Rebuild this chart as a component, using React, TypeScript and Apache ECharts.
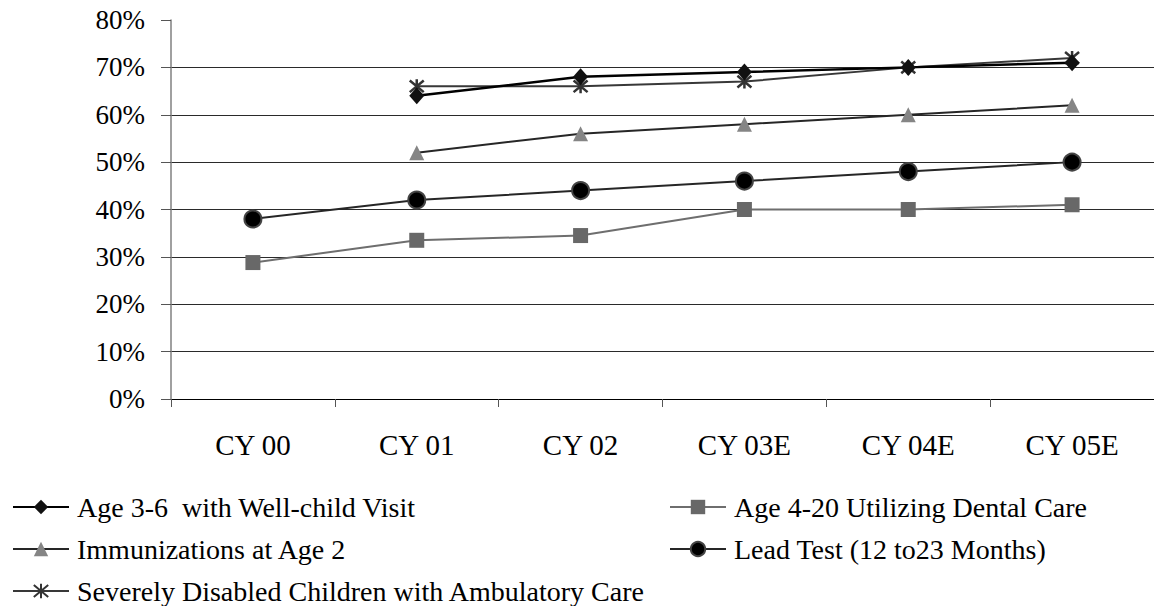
import React, { useEffect, useRef } from "react";
import * as echarts from "echarts";

const categories = ["CY 00", "CY 01", "CY 02", "CY 03E", "CY 04E", "CY 05E"];

const wellChild = [null, 64, 68, 69, 70, 71];
const dental = [28.8, 33.5, 34.5, 40, 40, 41];
const immunizations = [null, 52, 56, 58, 60, 62];
const leadTest = [38, 42, 44, 46, 48, 50];
const disabled = [null, 66, 66, 67, 70, 72];

const yTicks = [0, 10, 20, 30, 40, 50, 60, 70, 80];

const names = {
  wellChild: "Age 3-6  with Well-child Visit",
  dental: "Age 4-20 Utilizing Dental Care",
  immunizations: "Immunizations at Age 2",
  lead: "Lead Test (12 to23 Months)",
  disabled: "Severely Disabled Children with Ambulatory Care",
};

const FONT = "Liberation Serif";
const ASTERISK = "path://M0,0L10,10M10,0L0,10M5,-1L5,11";

export default function App() {
  const ref = useRef<HTMLDivElement>(null);

  useEffect(() => {
    if (!ref.current) return;
    const chart = echarts.init(ref.current, null, { renderer: "svg" });

    const legendText = { fontFamily: FONT, fontSize: 28, color: "#000", lineHeight: 28, padding: [0, 0, 0, 3] };
    const legendBase = {
      orient: "vertical",
      top: 493,
      height: 160,
      padding: 0,
      itemWidth: 56,
      itemHeight: 18,
      itemGap: 14,
      textStyle: legendText,
    };

    chart.setOption({
      animation: false,
      backgroundColor: "#fff",
      textStyle: { fontFamily: FONT },
      grid: { left: 171, top: 20, width: 988, height: 379, containLabel: false },
      xAxis: {
        type: "category",
        data: categories,
        boundaryGap: true,
        axisLine: { lineStyle: { color: "#000", width: 1 } },
        axisTick: { show: true, length: 8, lineStyle: { color: "#555" } },
        axisLabel: { fontFamily: FONT, fontSize: 29, color: "#000", margin: 31 },
        splitLine: { show: false },
      },
      yAxis: {
        type: "value",
        min: yTicks[0],
        max: yTicks[yTicks.length - 1],
        interval: 10,
        axisLine: { show: true, lineStyle: { color: "#808080", width: 1.5 } },
        axisTick: { show: true, length: 10, lineStyle: { color: "#555" } },
        axisLabel: {
          fontFamily: FONT,
          fontSize: 27,
          color: "#000",
          margin: 26,
          formatter: (v: number) => `${v}%`,
        },
        splitLine: {
          show: true,
          lineStyle: {
            color: yTicks.map((t, i) => (i === yTicks.length - 1 ? "rgba(0,0,0,0)" : "#2a2a2a")),
            width: 1,
          },
        },
      },
      legend: [
        {
          ...legendBase,
          left: 12,
          data: [names.wellChild, names.immunizations, names.disabled],
        },
        {
          ...legendBase,
          left: 669,
          data: [names.dental, names.lead],
        },
      ],
      series: [
        {
          name: names.wellChild,
          type: "line",
          data: wellChild,
          symbol: "diamond",
          symbolSize: [15, 17],
          lineStyle: { color: "#000", width: 2.5 },
          itemStyle: { color: "#111" },
          z: 5,
        },
        {
          name: names.dental,
          type: "line",
          data: dental,
          symbol: "rect",
          symbolSize: 15,
          lineStyle: { color: "#6e6e6e", width: 2 },
          itemStyle: { color: "#686868" },
        },
        {
          name: names.immunizations,
          type: "line",
          data: immunizations,
          symbol: "triangle",
          symbolSize: 15,
          lineStyle: { color: "#262626", width: 2 },
          itemStyle: { color: "#858585" },
        },
        {
          name: names.lead,
          type: "line",
          data: leadTest,
          symbol: "circle",
          symbolSize: 17,
          lineStyle: { color: "#262626", width: 2 },
          itemStyle: { color: "#000", borderColor: "#444", borderWidth: 2 },
        },
        {
          name: names.disabled,
          type: "line",
          data: disabled,
          symbol: ASTERISK,
          symbolSize: 14,
          lineStyle: { color: "#383838", width: 2 },
          itemStyle: { color: "#333", borderColor: "#333", borderWidth: 2.5 },
          z: 4,
        },
      ],
    });

    return () => chart.dispose();
  }, []);

  return (
    <div
      ref={ref}
      style={{ position: "absolute", left: 0, top: 0, width: 1154, height: 606, overflow: "hidden" }}
    />
  );
}
